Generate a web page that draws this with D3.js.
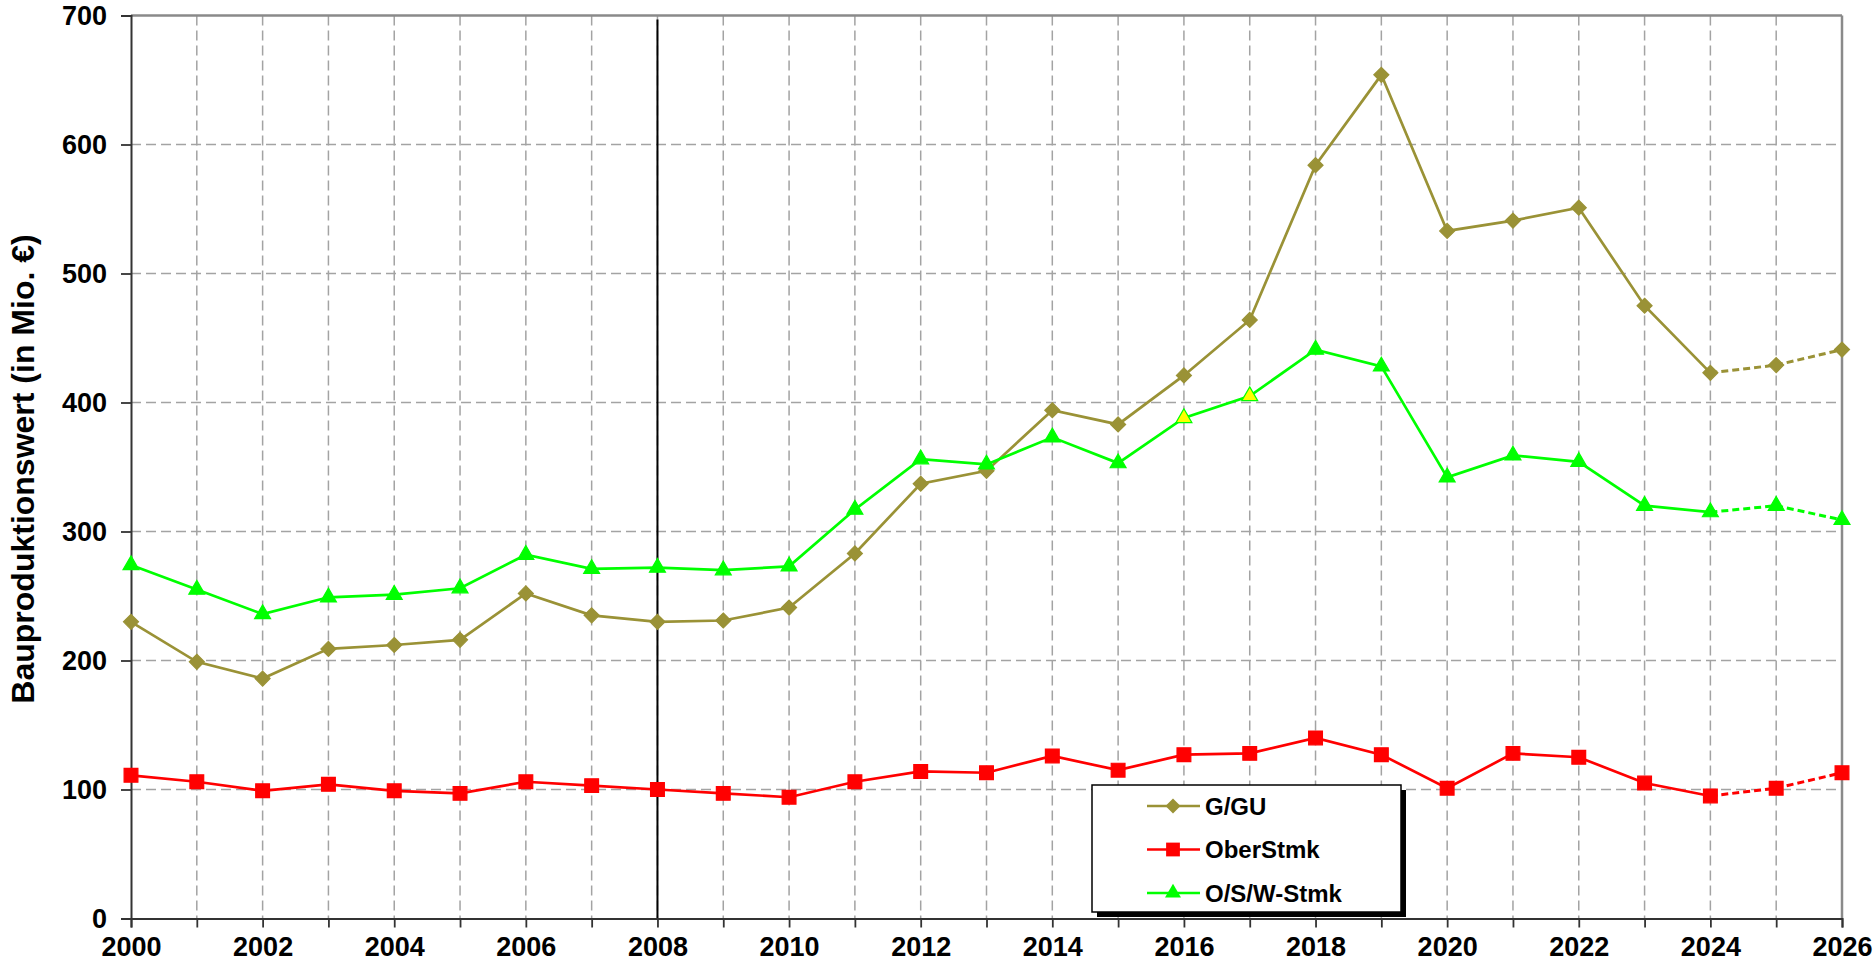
<!DOCTYPE html>
<html>
<head>
<meta charset="utf-8">
<script src="https://cdn.jsdelivr.net/npm/d3@7/dist/d3.min.js"></script>
<style>
  body { margin: 0; background: #fff; }
  svg { display: block; font-family: Arial, "Liberation Sans", sans-serif; }
</style>
</head>
<body>
<svg id="chart" width="1876" height="969"></svg>
<script>
var years = d3.range(2000, 2027);
var valuesGGU = [230, 199, 186, 209, 212, 216, 252, 235, 230, 231, 241, 283, 337, 347,
  394, 383, 421, 464, 584, 654, 533, 541, 551, 475, 423, 429, 441];
var valuesOber = [111, 106, 99, 104, 99, 97, 106, 103, 100, 97, 94, 106, 114, 113,
  126, 115, 127, 128, 140, 127, 101, 128, 125, 105, 95, 101, 113];
var valuesOSW = [274, 255, 236, 249, 251, 256, 282, 271, 272, 270, 273, 317, 356, 352,
  373, 353, 388, 405, 441, 428, 342, 359, 354, 320, 315, 320, 309];
var seriesNames = ["G/GU", "OberStmk", "O/S/W-Stmk"];
var yTicks = [0, 100, 200, 300, 400, 500, 600, 700];
var xLabelYears = d3.range(2000, 2027, 2);
var forecastFrom = 2024;   // dashed from here on
var markedYear = 2008;     // black vertical line
var yellowYearsOSW = [2016, 2017];

var series = [
  { name: seriesNames[0], values: valuesGGU, color: "#9a9236", symbol: "diamond" },
  { name: seriesNames[1], values: valuesOber, color: "#ff0000", symbol: "square" },
  { name: seriesNames[2], values: valuesOSW, color: "#00ff00", symbol: "triangle" }
];

var svg = d3.select("#chart"),
  margin = { top: 15.5, right: 34, bottom: 50.5, left: 131 },
  width = +svg.attr("width") - margin.left - margin.right,
  height = +svg.attr("height") - margin.top - margin.bottom,
  g = svg.append("g").attr("transform", "translate(" + margin.left + "," + margin.top + ")");

var x = d3.scaleLinear().domain([2000, 2026]).range([0, width]);
var y = d3.scaleLinear().domain([0, 700]).range([height, 0]);

// grid
g.append("g").selectAll("line")
  .data(yTicks.slice(1, -1))
  .enter().append("line")
  .attr("x1", 0).attr("x2", width)
  .attr("y1", function(d) { return y(d); }).attr("y2", function(d) { return y(d); })
  .attr("stroke", "#a3a3a3").attr("stroke-width", 1.5).attr("stroke-dasharray", "10,5");

g.append("g").selectAll("line")
  .data(years.slice(1, -1))
  .enter().append("line")
  .attr("x1", function(d) { return x(d); }).attr("x2", function(d) { return x(d); })
  .attr("y1", 0).attr("y2", height)
  .attr("stroke", "#a3a3a3").attr("stroke-width", 1.5).attr("stroke-dasharray", "10,5");

// frame top/right
g.append("line").attr("x1", 0).attr("x2", width).attr("y1", 0).attr("y2", 0)
  .attr("stroke", "#8a8a8a").attr("stroke-width", 2.5);
g.append("line").attr("x1", width).attr("x2", width).attr("y1", 0).attr("y2", height)
  .attr("stroke", "#8a8a8a").attr("stroke-width", 2.5);

// 2008 line
g.append("line")
  .attr("x1", x(markedYear)).attr("x2", x(markedYear))
  .attr("y1", 4).attr("y2", height)
  .attr("stroke", "#000").attr("stroke-width", 2);

// axes
var yAxis = d3.axisLeft(y).tickValues(yTicks).tickSize(10).tickPadding(14);
var xAxis = d3.axisBottom(x).tickValues(years).tickSize(9).tickPadding(7)
  .tickFormat(function(d) { return xLabelYears.indexOf(d) >= 0 ? d : ""; });

var gy = g.append("g").call(yAxis);
var gx = g.append("g").attr("transform", "translate(0," + height + ")").call(xAxis);

[gy, gx].forEach(function(a) {
  a.select(".domain").attr("stroke", "#333").attr("stroke-width", 2);
  a.selectAll(".tick line").attr("stroke", "#333").attr("stroke-width", 1.8);
  a.selectAll("text").attr("font-size", 27).attr("font-weight", "bold")
    .attr("fill", "#000").attr("font-family", "Arial, 'Liberation Sans', sans-serif");
});
gx.selectAll("text").attr("dy", "0.78em");

// y axis title
svg.append("text")
  .attr("transform", "translate(34,469) rotate(-90)")
  .attr("text-anchor", "middle")
  .attr("font-size", 32).attr("font-weight", "bold")
  .text("Bauproduktionswert (in Mio. €)");

function symbolPath(type) {
  if (type === "diamond") return "M0,-7.5L7.5,0L0,7.5L-7.5,0Z";
  if (type === "square") return d3.symbol().type(d3.symbolSquare).size(190)();
  return d3.symbol().type(d3.symbolTriangle).size(110)();
}

var line = d3.line()
  .x(function(d) { return x(d.year); })
  .y(function(d) { return y(d.value); });

series.forEach(function(s) {
  var pts = years.map(function(yr, i) { return { year: yr, value: s.values[i] }; });
  var solid = pts.filter(function(d) { return d.year <= forecastFrom; });
  var dashed = pts.filter(function(d) { return d.year >= forecastFrom; });

  g.append("path").datum(solid).attr("d", line)
    .attr("fill", "none").attr("stroke", s.color).attr("stroke-width", 2.7);
  g.append("path").datum(dashed).attr("d", line)
    .attr("fill", "none").attr("stroke", s.color).attr("stroke-width", 3)
    .attr("stroke-dasharray", "7,4");

  g.append("g").selectAll("path")
    .data(pts)
    .enter().append("path")
    .attr("transform", function(d) { return "translate(" + x(d.year) + "," + y(d.value) + ")"; })
    .attr("d", symbolPath(s.symbol))
    .attr("fill", function(d) {
      if (s.symbol === "triangle" && yellowYearsOSW.indexOf(d.year) >= 0) return "#ffff00";
      return s.color;
    })
    .attr("stroke", s.color).attr("stroke-width", 1.2);
});

// legend
var lx = 1092, ly = 785, lw = 309, lh = 127;
var legend = svg.append("g");
legend.append("rect").attr("x", lx + 5).attr("y", ly + 5).attr("width", lw).attr("height", lh)
  .attr("fill", "#000");
legend.append("rect").attr("x", lx).attr("y", ly).attr("width", lw).attr("height", lh)
  .attr("fill", "#fff").attr("stroke", "#000").attr("stroke-width", 1.5);

var entry = legend.selectAll(".entry")
  .data(series)
  .enter().append("g")
  .attr("class", "entry")
  .attr("transform", function(d, i) { return "translate(" + lx + "," + (ly + 21 + i * 43.5) + ")"; });

entry.append("line").attr("x1", 55).attr("x2", 108).attr("y1", 0).attr("y2", 0)
  .attr("stroke", function(d) { return d.color; }).attr("stroke-width", 2.7);
entry.append("path").attr("transform", "translate(81,0)")
  .attr("d", function(d) { return symbolPath(d.symbol); })
  .attr("fill", function(d) { return d.color; });
entry.append("text").attr("x", 113).attr("y", 0).attr("dy", "0.36em")
  .attr("font-size", 24).attr("font-weight", "bold")
  .text(function(d) { return d.name; });
</script>
</body>
</html>
